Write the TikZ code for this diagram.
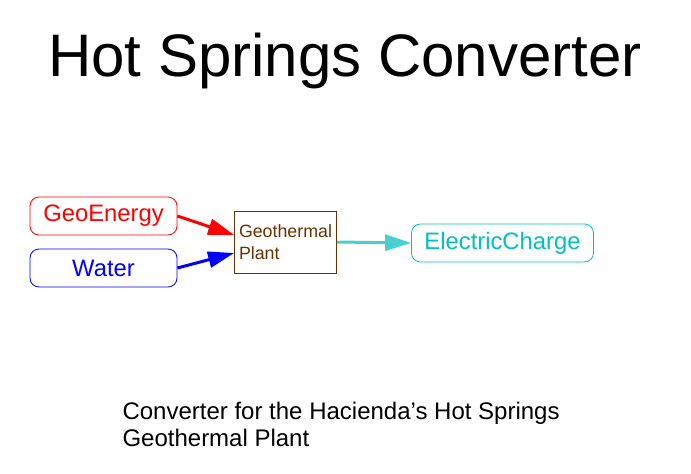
\documentclass[tikz,border=0pt]{standalone}
\usepackage{fontspec}
\setmainfont{Liberation Sans}
\usepackage{xcolor}
\usetikzlibrary{arrows.meta,positioning}

\definecolor{plantbrown}{RGB}{102,51,0}
\definecolor{chargecyan}{RGB}{0,192,192}
\definecolor{flowcyan}{RGB}{72,208,208}

\begin{document}
\begin{tikzpicture}[
  x=1pt, y=-1pt,
  stock/.style={rectangle, rounded corners=9pt, draw, line width=0.8pt, inner sep=0pt, minimum height=38pt, font=\fontsize{23.8}{26}\selectfont},
  converter/.style={rectangle, draw=plantbrown, line width=0.8pt, text=plantbrown, inner sep=4pt, minimum width=102pt, minimum height=62pt, align=left, font=\fontsize{17.8}{22}\selectfont},
  caption/.style={rectangle, draw=none, fill=none, align=left, font=\fontsize{24}{27}\selectfont},
  every edge/.style={draw, -{Triangle[length=26pt,width=16pt]}, line width=3pt}
]
  \useasboundingbox (0,0) rectangle (691,474);

  \node[anchor=base, font=\fontsize{60}{66}\selectfont] (title) at (345,76) {Hot Springs Converter};

  \node[stock, draw=red, text=red, minimum width=147pt] (geo) at (103.5,216) {GeoEnergy};
  \node[stock, draw=blue, text=blue, minimum width=147pt] (water) at (103.5,268) {Water};
  \node[converter] (plant) at (285.5,242) {Geothermal\\Plant};
  \node[stock, draw=chargecyan, text=chargecyan, minimum width=182pt] (charge) at (502.5,243) {ElectricCharge};

  % Flows into and out of the plant
  \path[red] (geo.east) edge ([yshift=7pt]plant.west);
  \path[blue] (water.east) edge ([yshift=-11pt]plant.west);
  \path[flowcyan] (plant.east) edge (charge.west);

  \node[caption, anchor=north west] (note) at (119,399) {Converter for the Hacienda’s Hot Springs\\Geothermal Plant};
\end{tikzpicture}
\end{document}
